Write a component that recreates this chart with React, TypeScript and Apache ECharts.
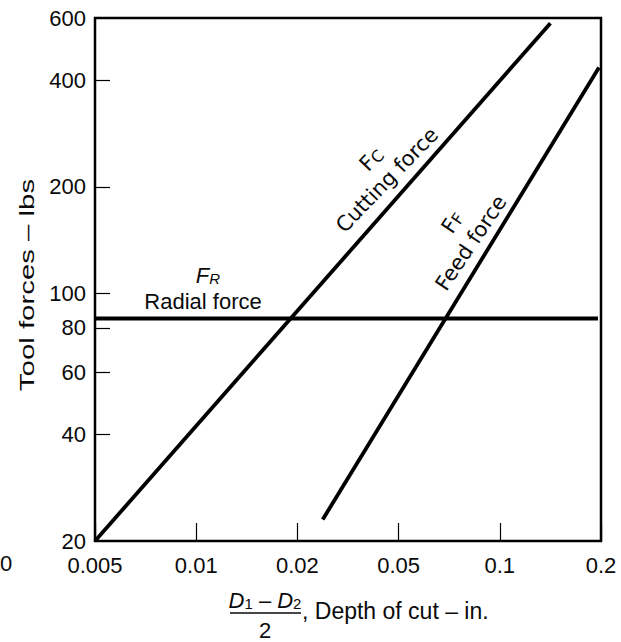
import React, { useEffect, useRef } from "react";
import * as echarts from "echarts";

const xTickLabels = ["0.005", "0.01", "0.02", "0.05", "0.1", "0.2"];
const yLabelValues = [20, 40, 60, 80, 100, 200, 400, 600];
const yTickValues = [40, 60, 80, 100, 200, 400];

// x given as position on the (evenly spaced) depth-of-cut scale: 0 = 0.005 ... 5 = 0.2
const cuttingForce = [[0, 20], [4.5, 580]];
const radialForce = [[0, 85], [4.97, 85]];
const feedForce = [[2.25, 23], [4.98, 435]];

const SANS = "'Liberation Sans', Arial, Helvetica, sans-serif";
const ROUND = "'DejaVu Sans', Verdana, sans-serif";
const INK = "#0a0a0a";

export default function App() {
  const ref = useRef<HTMLDivElement>(null);
  useEffect(() => {
    if (!ref.current) return;
    const chart = echarts.init(ref.current, null, { renderer: "svg" });
    const lineStyle = { color: "#000", width: 3.8 };
    chart.setOption({
      animation: false,
      backgroundColor: "#fff",
      grid: {
        left: 95,
        right: 20,
        top: 18,
        bottom: 101,
        show: true,
        borderColor: "#000",
        borderWidth: 2.5,
        backgroundColor: "transparent",
      },
      xAxis: {
        type: "value",
        min: 0,
        max: 5,
        interval: 1,
        axisLine: { show: false },
        splitLine: { show: false },
        axisTick: { show: true, inside: true, length: 18, lineStyle: { color: "#000", width: 1.2 } },
        axisLabel: {
          margin: 13,
          fontFamily: SANS,
          fontSize: 22,
          color: INK,
          formatter: (v: number) => xTickLabels[Math.round(v)] ?? "",
        },
      },
      yAxis: {
        type: "log",
        logBase: 10,
        min: 20,
        max: 600,
        axisLine: { show: false },
        splitLine: { show: false },
        axisTick: {
          show: true,
          inside: true,
          length: 15,
          customValues: yTickValues,
          lineStyle: { color: "#000", width: 1.2 },
        },
        axisLabel: {
          margin: 9,
          fontFamily: SANS,
          fontSize: 22,
          color: INK,
          customValues: yLabelValues,
          formatter: (v: number) => String(Math.round(v)),
        },
      },
      series: [
        { type: "line", name: "Cutting force", data: cuttingForce, symbol: "none", lineStyle, silent: true },
        { type: "line", name: "Radial force", data: radialForce, symbol: "none", lineStyle, silent: true },
        { type: "line", name: "Feed force", data: feedForce, symbol: "none", lineStyle, silent: true },
      ],
      graphic: [
        {
          type: "text",
          x: 27,
          y: 285,
          rotation: Math.PI / 2,
          scaleX: 1.4,
          style: {
            text: "Tool forces – lbs",
            fontFamily: SANS,
            fontSize: 21,
            fill: INK,
            align: "center",
            verticalAlign: "middle",
          },
        },
        {
          type: "text",
          x: 0,
          y: 563,
          style: { text: "0", fontFamily: SANS, fontSize: 22, fill: INK, align: "left", verticalAlign: "middle" },
        },
        // Radial force label
        {
          type: "text",
          x: 208,
          y: 275,
          style: {
            text: "{f|F}{s|R}",
            align: "center",
            verticalAlign: "middle",
            rich: {
              f: { fontFamily: SANS, fontStyle: "italic", fontSize: 22, fill: INK, verticalAlign: "bottom", lineHeight: 22 },
              s: { fontFamily: SANS, fontStyle: "italic", fontSize: 15, fill: INK, verticalAlign: "bottom", lineHeight: 18 },
            },
          },
        },
        {
          type: "text",
          x: 203,
          y: 301,
          style: { text: "Radial force", fontFamily: SANS, fontSize: 22, fill: INK, align: "center", verticalAlign: "middle" },
        },
        // Cutting force label
        {
          type: "text",
          x: 371,
          y: 159,
          rotation: (46 * Math.PI) / 180,
          style: {
            text: "{f|F}{s|C}",
            align: "center",
            verticalAlign: "middle",
            rich: {
              f: { fontFamily: ROUND, fontSize: 21, fill: INK, verticalAlign: "bottom", lineHeight: 22 },
              s: { fontFamily: ROUND, fontSize: 16, fill: INK, verticalAlign: "bottom", lineHeight: 18 },
            },
          },
        },
        {
          type: "text",
          x: 387,
          y: 180,
          rotation: (46 * Math.PI) / 180,
          style: { text: "Cutting force", fontFamily: ROUND, fontSize: 21, fill: INK, align: "center", verticalAlign: "middle" },
        },
        // Feed force label
        {
          type: "text",
          x: 452,
          y: 222,
          rotation: (56 * Math.PI) / 180,
          style: {
            text: "{f|F}{s|F}",
            align: "center",
            verticalAlign: "middle",
            rich: {
              f: { fontFamily: ROUND, fontSize: 21, fill: INK, verticalAlign: "bottom", lineHeight: 22 },
              s: { fontFamily: ROUND, fontSize: 16, fill: INK, verticalAlign: "bottom", lineHeight: 18 },
            },
          },
        },
        {
          type: "text",
          x: 471,
          y: 243,
          rotation: (56 * Math.PI) / 180,
          style: { text: "Feed force", fontFamily: ROUND, fontSize: 21, fill: INK, align: "center", verticalAlign: "middle" },
        },
        // x axis title: fraction + text
        {
          type: "text",
          x: 265,
          y: 600,
          style: {
            text: "{d|D}{s|1}{m| – }{d|D}{s|2}",
            align: "center",
            verticalAlign: "middle",
            rich: {
              d: { fontFamily: SANS, fontStyle: "italic", fontSize: 22, fill: INK, verticalAlign: "bottom", lineHeight: 22 },
              s: { fontFamily: SANS, fontSize: 15, fill: INK, verticalAlign: "bottom", lineHeight: 18 },
              m: { fontFamily: SANS, fontSize: 22, fill: INK, verticalAlign: "bottom", lineHeight: 22 },
            },
          },
        },
        {
          type: "line",
          shape: { x1: 230, y1: 613, x2: 301, y2: 613 },
          style: { stroke: INK, lineWidth: 1.5 },
        },
        {
          type: "text",
          x: 265,
          y: 630,
          style: { text: "2", fontFamily: SANS, fontSize: 22, fill: INK, align: "center", verticalAlign: "middle" },
        },
        {
          type: "text",
          x: 302,
          y: 611,
          style: { text: ", Depth of cut – in.", fontFamily: SANS, fontSize: 23, fill: INK, align: "left", verticalAlign: "middle" },
        },
      ],
    });
    return () => chart.dispose();
  }, []);
  return <div ref={ref} style={{ width: 621, height: 642, position: "absolute", left: 0, top: 0 }} />;
}
